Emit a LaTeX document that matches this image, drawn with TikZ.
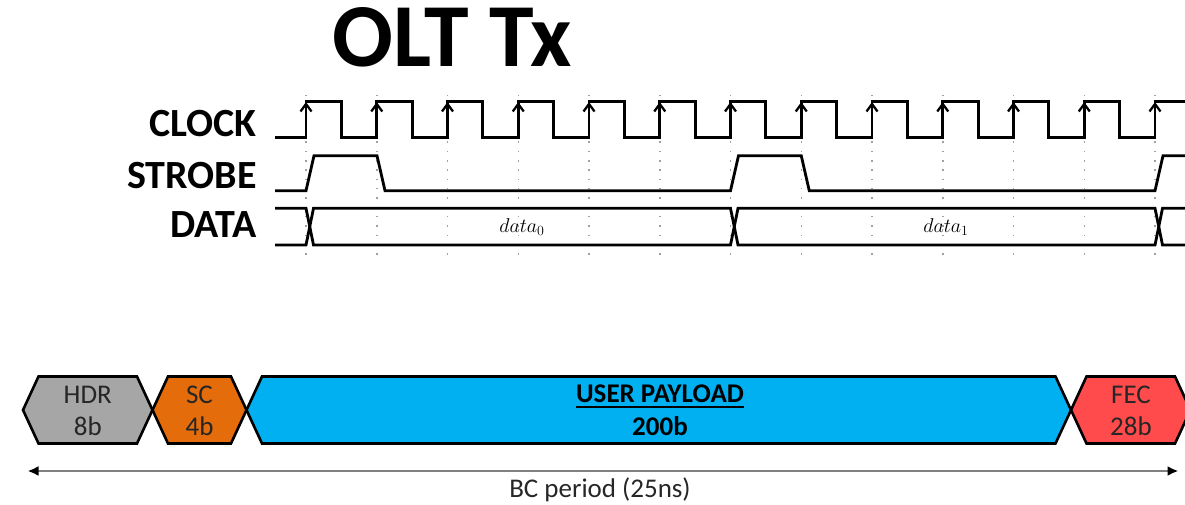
\documentclass[tikz,border=0pt]{standalone}
\usepackage{fix-cm}
\usepackage{fontspec}
\newfontfamily\carl{Carlito}
\usetikzlibrary{arrows.meta}
\definecolor{hdrgray}{HTML}{A6A6A6}
\definecolor{scorange}{HTML}{E46C0A}
\definecolor{plblue}{HTML}{00B0F0}
\definecolor{fecred}{HTML}{FF4B4B}
\definecolor{darktxt}{HTML}{262626}
\definecolor{dotgray}{HTML}{A0A0A0}
\definecolor{arrowgray}{HTML}{808080}
\begin{document}
\begin{tikzpicture}[x=1pt,y=-1pt,
  sig/.style={line width=2.8pt, line join=miter, black},
  dotline/.style={dotgray, line width=1.5pt, dash pattern=on 1.5pt off 7.8pt},
  lbl/.style={font=\carl\bfseries\fontsize{40}{40}\selectfont, inner sep=0pt, anchor=base east},
  hex/.style={draw=black, line width=2.6pt, line join=miter},
  hextxt/.style={font=\carl\fontsize{27}{27}\selectfont, text=darktxt, inner sep=0pt, anchor=base},
  hexbold/.style={font=\carl\bfseries\fontsize{27}{27}\selectfont, text=black, inner sep=0pt, anchor=base}]
\useasboundingbox (0,0) rectangle (1185,505);
\clip (0,0) rectangle (1185,505);

% title
\node[font=\carl\bfseries\fontsize{90}{90}\selectfont, inner sep=0pt, anchor=base west] (title) at (332,67) {OLT Tx};

% signal labels
\node[lbl] (lclk) at (257,136.5) {CLOCK};
\node[lbl] (lstb) at (257,189) {STROBE};
\node[lbl] (ldat) at (257,237) {DATA};

% dotted grid
\foreach \k in {0,...,12}
  \draw[dotline] ({306+\k*70.75},95) -- ({306+\k*70.75},257);

% clock
\draw[sig] (275,137.3) \foreach \k in {0,...,11} { -- ({306+\k*70.75},137.3) -- ++(0,-35.6) -- ++(35.375,0) -- ++(0,35.6) } -- (1155,137.3) -- (1155,101.7) -- (1190,101.7);
\foreach \k in {0,...,12}
  \draw[sig, line width=2.3pt] ({306+\k*70.75-5.5},111.5) -- ({306+\k*70.75},104) -- ({306+\k*70.75+5.5},111.5);

% strobe
\draw[sig] (275,190.7) -- (306,190.7) -- (314,155.7) -- (377,155.7) -- (385,190.7) -- (730.5,190.7) -- (738.5,155.7) -- (801.25,155.7) -- (809.25,190.7) -- (1155,190.7) -- (1163,155.7) -- (1190,155.7);

% data
\draw[sig] (275,208.3) -- (306,208.3) -- (313.5,245) -- (730.5,245) -- (738,208.3) -- (1155,208.3) -- (1162.5,245) -- (1190,245);
\draw[sig] (275,245) -- (306,245) -- (313.5,208.3) -- (730.5,208.3) -- (738,245) -- (1155,245) -- (1162.5,208.3) -- (1190,208.3);
\node[font=\fontsize{20}{22}\selectfont, inner sep=0pt] (d0) at (522,227) {$data_0$};
\node[font=\fontsize{20}{22}\selectfont, inner sep=0pt] (d1) at (946,227) {$data_1$};

% frame bar
\filldraw[hex, fill=hdrgray] (23,410) -- (38.5,376.5) -- (137,376.5) -- (152.5,410) -- (137,443.5) -- (38.5,443.5) -- cycle;
\filldraw[hex, fill=scorange] (152.5,410) -- (168,376.5) -- (231,376.5) -- (246.5,410) -- (231,443.5) -- (168,443.5) -- cycle;
\filldraw[hex, fill=plblue] (246.5,410) -- (262,376.5) -- (1055.5,376.5) -- (1071,410) -- (1055.5,443.5) -- (262,443.5) -- cycle;
\filldraw[hex, fill=fecred] (1071,410) -- (1086.5,376.5) -- (1175,376.5) -- (1190.5,410) -- (1175,443.5) -- (1086.5,443.5) -- cycle;

\node[hextxt] (hdr1) at (87.75,403) {HDR};
\node[hextxt] (hdr2) at (87.75,435) {8b};
\node[hextxt] (sc1) at (199.5,403) {SC};
\node[hextxt] (sc2) at (199.5,435) {4b};
\node[hexbold] (up1) at (660,402) {USER PAYLOAD};
\draw[line width=1.8pt] ([yshift=-5pt]up1.base west) -- ([yshift=-5pt]up1.base east);
\node[hexbold] (up2) at (660,435) {200b};
\node[hextxt] (fec1) at (1131,403) {FEC};
\node[hextxt] (fec2) at (1131,435) {28b};

% BC period arrow
\coordinate (bcL) at (27.5,471);
\coordinate (bcR) at (1178.5,471);
\draw[arrowgray, line width=2.5pt, {Latex[length=11pt,width=10pt,color=black]}-{Latex[length=11pt,width=10pt,color=black]}] (bcL) -- (bcR);
\node[font=\carl\fontsize{27}{27}\selectfont, text=darktxt, inner sep=0pt, anchor=base] (bc) at (600,497) {BC period (25ns)};
\end{tikzpicture}
\end{document}
